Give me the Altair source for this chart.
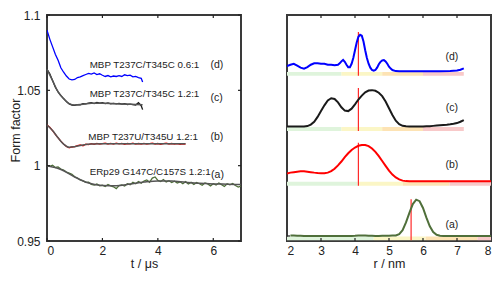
import altair as alt
import numpy as np
import pandas as pd

# ---------------- left panel: form factors ----------------
series = ["a", "b", "c", "d"]
trace_colors = ["#4f6f3a", "#ff0000", "#1a1a1a", "#0000ff"]

t_a = np.round(np.arange(0, 7.001, 0.1), 2).tolist()
ff_a = [1.0000, 0.9995, 1.0003, 0.9988, 0.9992, 0.9978, 0.9970, 0.9958, 0.9950, 0.9942,
        0.9926, 0.9918, 0.9905, 0.9899, 0.9889, 0.9890, 0.9876, 0.9871, 0.9878, 0.9866,
        0.9870, 0.9862, 0.9875, 0.9866, 0.9860, 0.9848, 0.9868, 0.9872, 0.9865, 0.9880,
        0.9874, 0.9890, 0.9880, 0.9895, 0.9884, 0.9898, 0.9905, 0.9890, 0.9918, 0.9925,
        0.9902, 0.9895, 0.9908, 0.9892, 0.9900, 0.9888, 0.9897, 0.9885, 0.9893, 0.9880,
        0.9894, 0.9878, 0.9889, 0.9876, 0.9888, 0.9880, 0.9870, 0.9885, 0.9879, 0.9866,
        0.9880, 0.9872, 0.9885, 0.9874, 0.9862, 0.9880, 0.9873, 0.9882, 0.9868, 0.9858,
        0.9865]
t_b = np.round(np.arange(0, 5.001, 0.1), 2).tolist()
ff_b = [1.0270, 1.0255, 1.0232, 1.0208, 1.0185, 1.0163, 1.0143, 1.0127, 1.0118, 1.0124,
        1.0127, 1.0133, 1.0137, 1.0132, 1.0142, 1.0140, 1.0146, 1.0141, 1.0148, 1.0143,
        1.0146, 1.0150, 1.0144, 1.0148, 1.0143, 1.0149, 1.0145, 1.0148, 1.0142, 1.0147,
        1.0145, 1.0149, 1.0143, 1.0147, 1.0144, 1.0148, 1.0143, 1.0146, 1.0149, 1.0144,
        1.0147, 1.0142, 1.0146, 1.0149, 1.0144, 1.0147, 1.0143, 1.0146, 1.0141, 1.0145,
        1.0143]
t_c = np.round(np.arange(0, 3.401, 0.1), 2).tolist() + [3.45]
ff_c = [1.0640, 1.0610, 1.0565, 1.0520, 1.0490, 1.0465, 1.0445, 1.0425, 1.0410, 1.0402,
        1.0400, 1.0405, 1.0403, 1.0412, 1.0410, 1.0415, 1.0418, 1.0412, 1.0420, 1.0415,
        1.0418, 1.0412, 1.0417, 1.0410, 1.0414, 1.0410, 1.0413, 1.0408, 1.0411, 1.0406,
        1.0409, 1.0405, 1.0402, 1.0418, 1.0398, 1.0372]
t_d = np.round(np.arange(0, 3.401, 0.1), 2).tolist() + [3.45]
ff_d = [1.0900, 1.0840, 1.0790, 1.0740, 1.0700, 1.0650, 1.0620, 1.0595, 1.0575, 1.0570,
        1.0572, 1.0585, 1.0590, 1.0598, 1.0605, 1.0612, 1.0608, 1.0615, 1.0605, 1.0610,
        1.0600, 1.0592, 1.0598, 1.0590, 1.0595, 1.0592, 1.0598, 1.0592, 1.0603, 1.0598,
        1.0601, 1.0590, 1.0592, 1.0585, 1.0580, 1.0555]

fit_t_a = [0, 0.5, 1, 1.5, 2, 2.5, 3, 3.5, 4, 4.5, 5, 5.5, 6, 6.5, 7]
fit_a = [1.0000, 0.9975, 0.9925, 0.9885, 0.9868, 0.9866, 0.9878, 0.9891, 0.9899, 0.9898,
         0.9890, 0.9883, 0.9879, 0.9877, 0.9875]
fit_t_b = [0, 0.2, 0.4, 0.6, 0.8, 1.0, 1.3, 1.6, 2, 3, 4, 5]
fit_b = [1.0270, 1.0233, 1.0185, 1.0143, 1.0122, 1.0126, 1.0137, 1.0143, 1.0145, 1.0145,
         1.0145, 1.0145]
fit_t_c = [0, 0.2, 0.4, 0.6, 0.8, 1.0, 1.3, 1.6, 2.0, 2.5, 3.0, 3.45]
fit_c = [1.0640, 1.0565, 1.0490, 1.0445, 1.0412, 1.0403, 1.0408, 1.0414, 1.0414, 1.0411,
         1.0408, 1.0405]

sample_names = ["ERp29 G147C/C157S 1.2:1", "MBP T237U/T345U 1.2:1",
                "MBP T237C/T345C 1.2:1", "MBP T237C/T345C 0.6:1"]
sample_t = [1.54, 1.49, 1.54, 1.54]
sample_v = [0.9958, 1.0191, 1.0473, 1.0670]
tag_names = ["(a)", "(b)", "(c)", "(d)"]
tag_t = [5.92, 5.9, 5.9, 5.9]
tag_v = [0.9939, 1.0189, 1.0446, 1.0670]

left_xticks = [0, 2, 4, 6]
left_yticks = [0.95, 1, 1.05, 1.1]
right_xticks = [2, 3, 4, 5, 6, 7, 8]

# ---------------- right panel: distance distributions ----------------
r_a = np.round(np.arange(2.1, 8.001, 0.1), 2).tolist()
p_a = [0.5, 0.4, 0.3, 0.2, 0.1, 0.1, 0.1, 0.1, 0.1,
       0.1, 0.1, 0.1, 0.1, 0.1, 0.1, 0.1, 0.1, 0.1, 0.1,
       0.2, 0.4, 0.6, 0.5, 0.3, 0.2, 0.1, 0.1, 0.2, 0.3,
       0.3, 0.4, 0.5, 2, 6, 14, 24, 33, 37.6, 36,
       29, 19, 10, 4, 1.2, 0.3, 0.1, 0, 0, 0,
       0, 0, 0, 0, 0, 0, 0, 0, 0, 0, 0]
w_a = [3, 2.5, 2, 1.5, 1, 0.5, 0.5, 0.5, 0.5,
       0.5, 0.5, 0.5, 0.5, 0.5, 0.5, 0.5, 0.5, 0.5, 0.5,
       1, 2, 3, 2, 1, 0.5, 0.5, 1, 1.5, 1.5,
       1.5, 1.5, 2, 3, 6, 12, 20, 26, 24, 18,
       14, 10, 7, 4, 2, 1, 0.5, 0.5, 0.5, 0.5,
       0.5, 0.5, 0.5, 0.5, 0.5, 0.5, 0.5, 0.5, 0.5, 0.5, 0.5]
r_b = np.round(np.arange(2.0, 8.001, 0.1), 2).tolist()
p_b = [8, 9, 9.5, 10, 10.3, 10.3, 10, 9.5, 9, 8.6,
       8.4, 8.4, 9, 10.5, 13, 16.5, 20.5, 25, 29, 32.5,
       35, 36.8, 37.6, 37.5, 36.5, 34, 30.5, 26, 21, 16,
       11, 7, 4, 2, 0.7, 0.2, 0, 0, 0, 0,
       0, 0, 0, 0, 0, 0, 0, 0, 0, 0,
       0, 0, 0, 0, 0, 0, 0, 0, 0, 0, 0]
w_b = [3, 3, 3, 3, 3, 3, 2.5, 2, 2, 2,
       2, 2, 2, 2, 2, 2, 2, 2.5, 2.5, 3,
       3, 3.5, 4, 4, 3.5, 3, 3, 2.5, 2.5, 2,
       2, 1.5, 1.5, 1, 1, 0.5, 0.5, 0.5, 0.5, 0.5,
       0.5, 0.5, 0.5, 0.5, 0.5, 0.5, 0.5, 0.5, 0.5, 0.5,
       0.5, 0.5, 0.5, 0.5, 0.5, 0.5, 0.5, 0.5, 0.5, 0.5, 0.5]
r_c = np.round(np.arange(2.0, 7.201, 0.1), 2).tolist()
p_c = [0, 0, 0, 0, 0, 0.1, 0.5, 2, 5, 10,
       16, 22, 27, 29.3, 28.5, 25, 20, 16.5, 16, 18.5,
       23, 28, 32, 35.5, 37.3, 37.7, 37, 35, 31.5, 26,
       19, 12, 6, 2.5, 0.8, 0.2, 0, 0, 0, 0,
       0, 0.2, 0.4, 0.7, 1, 1.3, 1.6, 1.9, 2.3, 2.8,
       3.6, 5, 6.7]
w_c = [0.5, 0.5, 0.5, 0.5, 0.5, 0.5, 0.5, 1, 1.5, 2,
       2.5, 3, 3.5, 4, 3.5, 3, 3, 3, 3, 3.5,
       4, 4, 4, 4, 4, 4, 4, 3.5, 3, 2.5,
       2, 2, 1.5, 1, 1, 0.5, 0.5, 0.5, 0.5, 0.5,
       1, 1.5, 2, 2.5, 3, 3.5, 4, 4.5, 5, 6,
       9, 13, 17]
r_d = [2.0, 2.1, 2.2, 2.3, 2.4, 2.5, 2.6, 2.7, 2.8, 2.9, 3.0, 3.1, 3.2, 3.3, 3.4, 3.5,
       3.55, 3.6, 3.65, 3.7, 3.75, 3.8, 3.85, 3.9, 3.95, 4.0, 4.05, 4.1, 4.15, 4.2, 4.25,
       4.3, 4.35, 4.4, 4.45, 4.5, 4.55, 4.6, 4.65, 4.7, 4.75, 4.8, 4.85, 4.9, 4.95, 5.0,
       5.05, 5.1, 5.2, 5.3, 5.5, 6.0, 6.5, 6.8, 7.0, 7.1, 7.2]
p_d = [5.5, 7, 8, 6, 4, 3, 4.5, 7, 8.5, 8.5, 8, 8, 7, 7, 6.5, 7,
       8.5, 10.5, 12, 10, 7, 4.5, 4.5, 8, 14, 22, 30, 36, 38, 37, 31,
       22, 14, 8, 4, 1.5, 0.8, 1.5, 4, 7.5, 10, 11.5, 11.8, 10.5, 8, 5,
       3, 1.5, 0.4, 0.2, 0.2, 0.2, 0.3, 0.5, 1, 1.8, 3.2]
w_d = [1.5, 2.5, 3, 2.5, 2, 1.5, 2, 2.5, 2.5, 2.5, 2, 2, 2.5, 2.5, 2.5, 2.5,
       3, 5, 7, 5, 3, 2.5, 2.5, 3, 3, 3, 3, 3, 3, 3, 3,
       2.5, 2, 2, 2, 2, 2, 2, 2, 2, 2, 2, 2, 1.5, 1.5, 1,
       1, 1, 0.5, 0.5, 0.5, 1, 2, 4, 7, 10, 13]

# zone boundaries (nm) under each distribution
zones_a = [2.0, 4.55, 6.08, 7.6, 8.0]
zones_b = [2.0, 4.08, 5.41, 6.78, 8.0]
zones_c = [2.0, 3.6, 4.8, 6.0, 7.2]
zones_d = [2.0, 3.6, 4.8, 6.0, 7.2]
zone_colors = ["#dff4dc", "#fbf6c6", "#fde3b4", "#f8c9c9"]

# mean distance markers
mark_r = [5.65, 4.1, 4.1, 4.1]
mark_h = [38, 40, 40, 41]

# vertical stacking offsets (layout only)
stack = {"a": 5.2, "b": 61.8, "c": 118.5, "d": 175.5}
tag_r = 6.85
tag_h = [11, 17, 19.3, 14.7]

# ---------------- sizes ----------------
LW, RW, H = 194, 204, 226
TK = 3  # inward tick length (px)

# ---------------- build tables ----------------
rows = []
for s, tt, vv in zip(series, [t_a, t_b, t_c, t_d], [ff_a, ff_b, ff_c, ff_d]):
    rows += [{"s": s, "t": a, "v": b} for a, b in zip(tt, vv)]
df_ff = pd.DataFrame(rows)
rows = []
for s, tt, vv in zip(series[:3], [fit_t_a, fit_t_b, fit_t_c], [fit_a, fit_b, fit_c]):
    rows += [{"s": s, "t": a, "v": b} for a, b in zip(tt, vv)]
df_fit = pd.DataFrame(rows)
df_lab = pd.DataFrame({"t": sample_t, "v": sample_v, "txt": sample_names})
df_tag = pd.DataFrame({"t": tag_t, "v": tag_v, "txt": tag_names})

rows = []
for s, rr, pp, ww in zip(series, [r_a, r_b, r_c, r_d], [p_a, p_b, p_c, p_d], [w_a, w_b, w_c, w_d]):
    o = stack[s]
    rows += [{"s": s, "r": r, "y": o + p, "lo": o + max(p - w, 0), "hi": o + p + w}
             for r, p, w in zip(rr, pp, ww)]
df_p = pd.DataFrame(rows)
rows = []
for s, zz in zip(series, [zones_a, zones_b, zones_c, zones_d]):
    o = stack[s]
    for k in range(4):
        rows.append({"s": s, "x0": zz[k], "x1": zz[k + 1], "k": k,
                     "y0": max(o - 4.5, 0), "y1": o - 0.5})
df_z = pd.DataFrame(rows)
df_m = pd.DataFrame({"s": series, "r": mark_r,
                     "y0": [max(stack[s] - 4.5, 0) for s in series],
                     "y1": [stack[s] + h for s, h in zip(series, mark_h)]})
df_rt = pd.DataFrame({"r": [tag_r] * 4, "y": [stack[s] + h for s, h in zip(series, tag_h)],
                      "txt": tag_names})

FONT = "Liberation Sans"
col_scale = alt.Scale(domain=series, range=trace_colors)
TICKC = "#222222"
FRAMEC = "#3a3a3a"

# shared scales and axes (identical in every layer so they merge cleanly)
xs_l = alt.Scale(domain=[0, 7], nice=False)
ys_l = alt.Scale(domain=[0.95, 1.1], nice=False, zero=False)
ax_b = alt.Axis(values=left_xticks, title="t / μs", ticks=False, labelPadding=4, titlePadding=1)
ax_l = alt.Axis(values=left_yticks, format="~g", title="Form factor", ticks=False,
                labelPadding=7, titleX=-32, titleY=H / 2 + 2, titleBaseline="middle")
xs_r = alt.Scale(domain=[2, 8], nice=False)
ys_r = alt.Scale(domain=[0, 234], nice=False, zero=False)
rx_b = alt.Axis(values=right_xticks, title="r / nm", ticks=False, labelPadding=4, titlePadding=1)


def LX(f):
    return alt.X(f, scale=xs_l, axis=ax_b)


def LY(f):
    return alt.Y(f, scale=ys_l, axis=ax_l)


def RX(f):
    return alt.X(f, scale=xs_r, axis=rx_b)


def RY(f):
    return alt.Y(f, scale=ys_r, axis=None)


def xticks(vals, X, h):
    d = pd.DataFrame({"tv": vals})
    bot = alt.Chart(d).mark_rule(color=TICKC, strokeWidth=1.2).encode(
        x=X("tv:Q"), y=alt.value(h), y2=alt.value(h - TK))
    top = alt.Chart(d).mark_rule(color=TICKC, strokeWidth=1.2).encode(
        x=X("tv:Q"), y=alt.value(0), y2=alt.value(TK))
    return [bot, top]


def yticks(vals, Y, w, both=True):
    d = pd.DataFrame({"tv": vals})
    out = [alt.Chart(d).mark_rule(color=TICKC, strokeWidth=1.2).encode(
        y=Y("tv:Q"), x=alt.value(0), x2=alt.value(TK))]
    if both:
        out.append(alt.Chart(d).mark_rule(color=TICKC, strokeWidth=1.2).encode(
            y=Y("tv:Q"), x=alt.value(w), x2=alt.value(w - TK)))
    return out


# ---------------- left chart ----------------
l_data = alt.Chart(df_ff).mark_line(strokeWidth=1.3, clip=True).encode(
    x=LX("t:Q"), y=LY("v:Q"),
    color=alt.Color("s:N", scale=col_scale, legend=None),
    detail="s:N", order="t:Q")
l_fit = alt.Chart(df_fit).mark_line(strokeWidth=1.5, color="#555555", interpolate="monotone").encode(
    x=LX("t:Q"), y=LY("v:Q"), detail="s:N", order="t:Q")
l_lab = alt.Chart(df_lab).mark_text(align="left", baseline="middle", font=FONT, fontSize=9.8,
                                    color="#222222").encode(
    x=LX("t:Q"), y=LY("v:Q"), text="txt:N")
l_tag = alt.Chart(df_tag).mark_text(align="left", baseline="middle", font=FONT, fontSize=10.5,
                                    color="#222222").encode(
    x=LX("t:Q"), y=LY("v:Q"), text="txt:N")
left = alt.layer(l_data, l_fit, l_lab, l_tag,
                 *xticks(left_xticks, LX, H), *yticks(left_yticks, LY, LW)
                 ).properties(width=LW, height=H)

# ---------------- right chart ----------------
r_band = alt.Chart(df_p).mark_area(color="#c8c8c8", opacity=0.85, clip=True).encode(
    x=RX("r:Q"), y=RY("lo:Q"), y2="hi:Q", detail="s:N", order="r:Q")
r_zone = alt.Chart(df_z).mark_rect(clip=True).encode(
    x=RX("x0:Q"), x2="x1:Q", y=RY("y0:Q"), y2="y1:Q",
    color=alt.Color("k:N", scale=alt.Scale(domain=[0, 1, 2, 3], range=zone_colors), legend=None))
r_mark = alt.Chart(df_m).mark_rule(color="#ff2a2a", strokeWidth=1.2).encode(
    x=RX("r:Q"), y=RY("y0:Q"), y2="y1:Q")
r_line = alt.Chart(df_p).mark_line(strokeWidth=2, clip=True).encode(
    x=RX("r:Q"), y=RY("y:Q"),
    color=alt.Color("s:N", scale=col_scale, legend=None), detail="s:N", order="r:Q")
r_tag = alt.Chart(df_rt).mark_text(align="center", baseline="middle", font=FONT, fontSize=10.5,
                                   color="#222222").encode(
    x=RX("r:Q"), y=RY("y:Q"), text="txt:N")
right = alt.layer(r_band, r_zone, r_mark, r_line, r_tag,
                  *xticks(right_xticks[1:-1], RX, H),
                  *yticks([stack["a"]], RY, RW, both=False)) \
    .resolve_scale(color="independent") \
    .properties(width=RW, height=H)

chart = alt.hconcat(left, right, spacing=40).properties(
    padding={"left": 0, "top": 0, "right": 0, "bottom": 0}
).configure_view(stroke=FRAMEC, strokeWidth=2, strokeOpacity=1).configure_axis(
    labelFont=FONT, labelFontSize=12, labelColor="#222222",
    titleFont=FONT, titleFontSize=12.5, titleFontWeight="normal", titleColor="#222222",
    domain=False, grid=False
)

chart.save("out.html", embed_options={"renderer": "svg", "actions": False})
